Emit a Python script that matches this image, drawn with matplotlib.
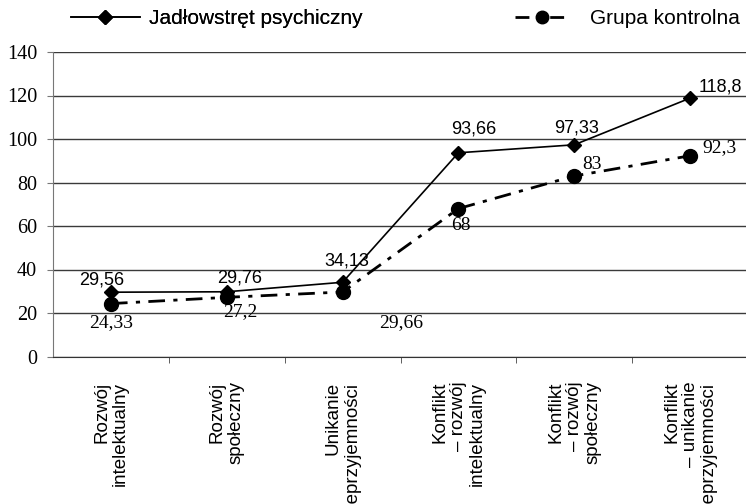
import matplotlib
matplotlib.use("Agg")
import matplotlib.pyplot as plt
from matplotlib.lines import Line2D

categories = ["Rozwój\nintelektualny", "Rozwój\nspołeczny", "Unikanie\nnieprzyjemności",
              "Konflikt\n– rozwój\nintelektualny", "Konflikt\n– rozwój\nspołeczny",
              "Konflikt\n– unikanie\nnieprzyjemności"]
anorexia = [29.56, 29.76, 34.13, 93.66, 97.33, 118.8]
control = [24.33, 27.2, 29.66, 68, 83, 92.3]
anorexia_labels = ["29,56", "29,76", "34,13", "93,66", "97,33", "118,8"]
control_labels = ["24,33", "27,2", "29,66", "68", "83", "92,3"]
series_names = ["Jadłowstręt psychiczny", "Grupa kontrolna"]
yticks = [0, 20, 40, 60, 80, 100, 120, 140]

# label offsets in points (dx, dy)
anorexia_off = [(-7, 9), (9, 10), (3, 15), (11, 17), (2, 12), (22, 8)]
control_off = [(0, -14), (10, -10), (42, -22), (2, -12), (13, 8), (21, 6)]

W, H = 746, 504
fig = plt.figure(figsize=(W / 100, H / 100), dpi=100)
ax = fig.add_axes([53 / W, 1 - 356.5 / H, (748 - 53) / W, (356.5 - 52) / H])

x = list(range(len(categories)))
dashdot = (0, (6, 3, 1.5, 3))
ax.plot(x, anorexia, color="black", lw=1.2, marker="D", markersize=7, zorder=4)
ax.plot(x, control, color="black", lw=2.0, linestyle=dashdot, marker="o",
        markersize=10, zorder=3)

for xi, v, t, (dx, dy) in zip(x, anorexia, anorexia_labels, anorexia_off):
    ax.annotate(t, (xi, v), xytext=(dx, dy), textcoords="offset points",
                ha="center", va="center", fontsize=13, family="Liberation Sans")
for xi, v, t, (dx, dy) in zip(x, control, control_labels, control_off):
    ax.annotate(t, (xi, v), xytext=(dx, dy), textcoords="offset points",
                ha="center", va="center", fontsize=14, family="Liberation Serif")

ax.set_xlim(-0.5, len(categories) - 0.5)
ax.set_ylim(0, 140)
ax.set_yticks(yticks)
ax.set_yticklabels([str(v) for v in yticks], family="Liberation Serif", fontsize=14.5)
ax.yaxis.grid(True, color="#3a3a3a", lw=1)
ax.set_axisbelow(True)
ax.tick_params(axis="y", length=4, pad=7.5, color="#777777")

ax.set_xticks([i + 0.5 for i in x[:-1]], minor=True)
ax.set_xticks(x)
ax.set_xticklabels(categories, rotation=90, ha="center", va="top", ma="right",
                   family="Liberation Sans", fontsize=13.5, linespacing=1.12)
ax.tick_params(axis="x", which="major", length=0, pad=18)
ax.tick_params(axis="x", which="minor", length=4, color="#444444")

for s in ["top", "right"]:
    ax.spines[s].set_visible(False)
ax.spines["left"].set_color("#777777")
ax.spines["bottom"].set_color("#333333")

h1 = Line2D([], [], color="black", lw=1.2, marker="D", markersize=7)
h2 = Line2D([], [], color="black", lw=2.0, linestyle=(0, (5, 3, 1.5, 3)), marker="o", markersize=9)
leg1 = fig.legend([h1], [series_names[0]], loc="center left",
                  bbox_to_anchor=(71 / W, 1 - 19 / H), frameon=False,
                  borderpad=0, borderaxespad=0, handlelength=3.3, handletextpad=0.45,
                  prop={"family": "Liberation Sans", "size": 15})
fig.add_artist(leg1)
leg2 = fig.legend([h2], [series_names[1]], loc="center left",
                  bbox_to_anchor=(515 / W, 1 - 19 / H), frameon=False,
                  borderpad=0, borderaxespad=0, handlelength=2.6, handletextpad=1.0,
                  prop={"family": "Liberation Sans", "size": 15})

fig.savefig("out.png", dpi=100)
